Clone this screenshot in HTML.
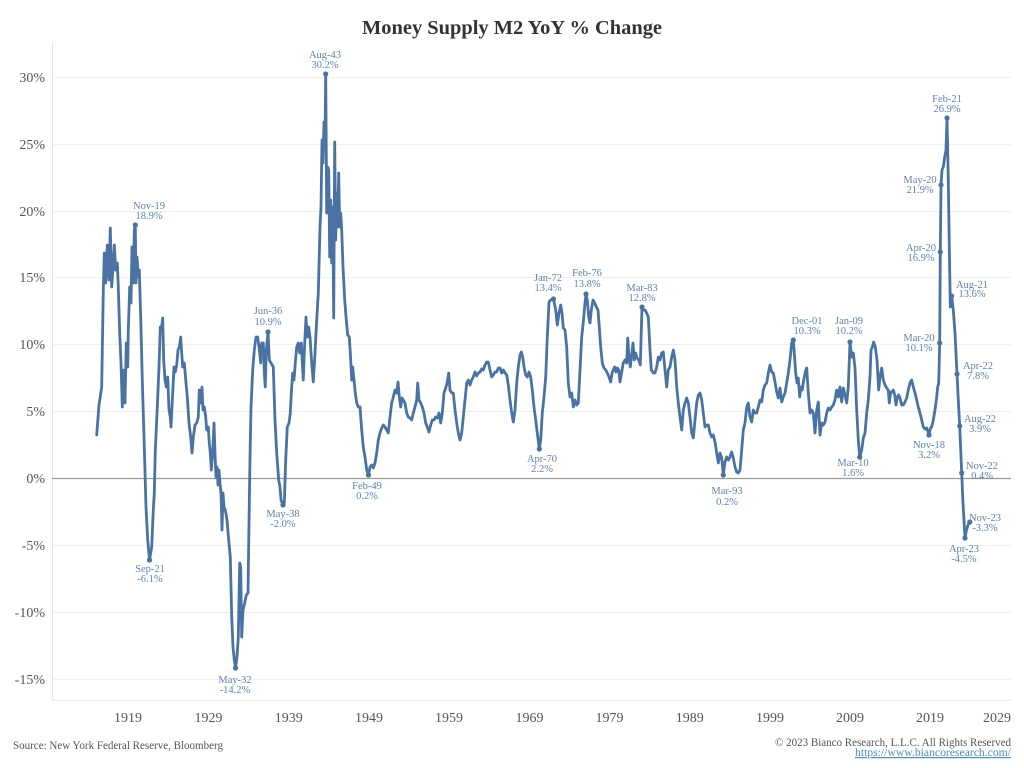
<!DOCTYPE html>
<html>
<head>
<meta charset="utf-8">
<style>
  html,body{margin:0;padding:0;background:#fff;}
  svg{display:block;}
  .ax{font-family:"Liberation Serif",serif;font-size:14px;fill:#555;}
  .an{font-family:"Liberation Serif",serif;font-size:10.5px;fill:#6281ab;text-anchor:middle;}
</style>
</head>
<body>
<svg width="1024" height="768" viewBox="0 0 1024 768" xmlns="http://www.w3.org/2000/svg">
  <rect width="1024" height="768" fill="#fff"/>
  <!-- title -->
  <text x="512" y="34" text-anchor="middle" font-family="Liberation Serif, serif" font-weight="bold" font-size="20" fill="#333" textLength="300" lengthAdjust="spacingAndGlyphs">Money Supply M2 YoY % Change</text>

  <!-- plot frame -->
  <line x1="52.5" y1="42" x2="52.5" y2="700" stroke="#e6e6e6" stroke-width="1"/>
  <line x1="52" y1="700.5" x2="1011" y2="700.5" stroke="#e6e6e6" stroke-width="1"/>
  <!-- gridlines -->
  <g stroke="#efefef" stroke-width="1">
    <line x1="52" y1="77.5" x2="1011" y2="77.5"/>
    <line x1="52" y1="144.5" x2="1011" y2="144.5"/>
    <line x1="52" y1="211.5" x2="1011" y2="211.5"/>
    <line x1="52" y1="277.5" x2="1011" y2="277.5"/>
    <line x1="52" y1="344.5" x2="1011" y2="344.5"/>
    <line x1="52" y1="411.5" x2="1011" y2="411.5"/>
    <line x1="52" y1="545.5" x2="1011" y2="545.5"/>
    <line x1="52" y1="612.5" x2="1011" y2="612.5"/>
    <line x1="52" y1="679.5" x2="1011" y2="679.5"/>
  </g>
  <line x1="52" y1="478.5" x2="1011" y2="478.5" stroke="#9a9a9a" stroke-width="1.2"/>

  <!-- y labels -->
  <g class="ax" text-anchor="end">
    <text x="45" y="82">30%</text>
    <text x="45" y="149">25%</text>
    <text x="45" y="216">20%</text>
    <text x="45" y="282">15%</text>
    <text x="45" y="349">10%</text>
    <text x="45" y="416">5%</text>
    <text x="45" y="483">0%</text>
    <text x="45" y="550">-5%</text>
    <text x="45" y="617">-10%</text>
    <text x="45" y="684">-15%</text>
  </g>
  <!-- x labels -->
  <g class="ax" text-anchor="middle">
    <text x="128" y="722">1919</text>
    <text x="208.5" y="722">1929</text>
    <text x="288.7" y="722">1939</text>
    <text x="369" y="722">1949</text>
    <text x="449" y="722">1959</text>
    <text x="529.5" y="722">1969</text>
    <text x="609.5" y="722">1979</text>
    <text x="689.7" y="722">1989</text>
    <text x="770" y="722">1999</text>
    <text x="850" y="722">2009</text>
    <text x="930" y="722">2019</text>
    <text x="997" y="722">2029</text>
  </g>

  <!-- series -->
  <polyline fill="none" stroke="#4a73a3" stroke-width="2.8" stroke-linejoin="round" stroke-linecap="round" points="
96.7,435 99,405 101.7,387 103.3,290 104.3,253 105.7,283 107.3,245 109,280 110.3,228 111.7,287 113,268 114.3,245 115.7,270 117.3,263 118.3,287 119.7,333 121,363 122.3,407 123.7,370 125,403 126.3,343 127.7,367 128.3,330 129.7,287 131,303 132,247 133.3,283 134.3,230 135.3,225 136,283 137,257 138.3,277 139.3,270 140.7,317 142.3,380 144.3,447 146,507 147.7,540 149.5,560 151.7,547 153.3,510 154.3,493 155.3,450 157.3,407 159,367 160.3,327 161.3,330 162.7,318 163.7,360 165,380 166.3,387 167.7,377 169,410 170.3,417 171,427 172.7,393 174,367 175.3,372 176.7,365 178,350 179.3,347 180.7,337 181.7,353 182.7,367 184.3,363 186,383 187.3,397 189,423 190.7,437 192,453 193.3,437 195,425 196.7,423 198.3,417 199.3,390 200.7,403 202,387 203,410 204.3,407 205.7,417 206.7,430 208.3,427 209.3,443 210.3,453 211.3,470 212.7,453 214,423 215,453 216,477 217,467 218,485 219,470 220,483 221,493 222,530 223,493 224,507 225.3,510 227,520 228.7,540 230.3,557 231.7,617 233,647 234.3,660 235.5,668 237,657 238.3,637 239.7,563 240.7,567 241.7,637 243,610 244.7,603 246.3,595 248,593 249,523 250,457 251,407 252.7,370 254.3,350 256,337 257.7,337 259,347 260.7,363 261.7,343 263.3,343 264.3,373 265.3,387 266.3,350 268,332 269.3,360 271,363 273.3,367 275,420 276.7,453 278.7,480 280,487 281,500 283,505 284.3,503 285.7,460 287.3,427 289,423 290.3,413 291.3,393 292.7,373 294,380 295.3,363 296.7,347 298.3,343 299.7,353 301.3,343 302.3,363 303.3,380 304.7,343 306,317 307.3,337 308.7,327 310,337 311.7,363 313.3,382 315,353 316.7,320 318.3,293 320,227 321,207 322,140 323,163 324,122 325,143 325.7,74 326.7,213 327.7,167 328.7,170 329.7,257 330.7,200 331.7,263 332.7,207 333.7,318 334.7,142 335.7,240 336.7,193 337.7,227 338.7,173 339.7,227 340.7,213 341.7,230 343,267 344.7,300 346.3,320 347.7,335 349.3,337 350.7,360 351.7,380 352.7,367 354,380 355.3,393 356.7,403 358.3,407 360,407 361.7,430 363.3,447 365,457 366.7,470 368.5,475 370,467 371.7,465 373.3,468 375,463 376.7,453 378.3,440 380,433 381.7,428 383.3,425 385,427 386.7,430 388.3,433 390,417 391.7,403 393.3,397 395,390 396.7,393 398,382 399.3,397 400.7,407 402,398 403.3,400 405,403 406.7,413 408.3,417 410,418 411.7,420 413.3,413 415,407 416.7,400 417.7,383 419,400 420.7,403 422.3,407 424,413 425.7,423 427.3,427 429,432 430.7,425 432.3,420 434,420 435.7,417 437.3,418 439,413 440.7,423 442.3,413 444,393 445.7,388 447.3,382 448.7,373 450,390 451.7,393 453.3,393 455,410 456.7,423 458.3,433 460,440 461.7,433 463.3,417 465,400 466.7,383 468.3,380 470,385 471.7,380
473.3,377 475,372 476.7,376 478.3,373 480,372 481.7,369 483.3,370 485,365 486.7,362 488.3,362 490,370 491.7,377 493.3,375 495,372 496.7,372 498.3,368 500,368 501.7,373 503.3,370 505,373 506.7,375 508.3,385 510,400 511.7,413 513.3,422 515,410 516.7,383 518.3,367 520,355 521.3,352 522.7,357 524,367 525.7,375 527.3,377 529,372 530.7,377 532.3,390 534,407 535.7,420 537.3,433 539.3,449 540.7,440 542.3,413 544,397 545.7,377 547.3,337 549,302 550.7,300 552.3,299 553.5,299 555.7,310 557.3,325 559,313 560.7,305 562,313 563.3,328 565,330 566.7,347 568.3,383 570,397 571.7,393 573.3,407 575,400 576.7,405 578.3,403 580,370 581.7,337 583.3,322 585,303 586,294 587.3,300 588.7,317 590,323 591.3,310 593,300 594.7,303 596.3,307 598,310 599.3,327 600.7,347 602.3,363 604,368 605.7,370 607.3,373 609,377 610.7,382 612,373 613.3,370 614.7,367 616,372 617.3,368 618.7,370 620,382 621.7,372 623.3,363 625,360 626.7,363 627.7,338 629,357 630.3,367 631.7,355 633,343 634.3,360 635.7,353 637,358 638.7,360 640.3,365 642,307 643.3,310 645,310 646.7,313 648.3,317 650,350 651.3,370 653.3,373 655,373 656.7,367 658.3,357 660,360 661.7,353 663.3,352 665,370 666.7,387 668.3,370 670,367 671.7,357 673.3,350 675,360 676.7,387 678.3,403 680,417 681.7,430 683.3,410 685,403 686.7,398 688.3,403 690,417 691.7,433 693.3,438 695,420 696.7,403 698.3,395 700,393
701.7,400 703.3,413 705,427 706.7,425 708.3,425 710,433 711.7,437 713.3,435 715,442 716.7,453 718.3,463 720,453 721.7,458 723.3,475 725,462 726.7,457 728.3,460 730,457 731.7,452 733.3,458 735,467 736.7,472 738.3,473 740,470 741.7,450 743.3,430 745,423 746.7,407 748.3,403 750,417 751.7,422 753.3,410 755,413 756.7,413 758.3,407 760,400 761.7,402 763.3,390 765,385 766.7,383 768.3,373 770,365 771.7,372 773.3,373 775,382 776.7,392 778.3,398 780,388 781.7,402 783.3,397 785,393 786.7,383 788.3,373 790,360 791.7,343 793.3,340 794.3,353 795.7,373 797,383 798.3,378 799.7,397 801,387 802.3,390 803.7,380 805.3,372 806.7,368 808.3,393 810,413 811.7,410 813.3,413 815,433 816.7,410 818.3,402 820,435 821.7,423 823.3,425 825,422 826.7,413 828.3,408 830,410 831.7,407 833.3,405 835,400 836.7,390 838.3,397 840,387 841.7,402 843.3,388 845,395 846.7,403 848.3,387 850,342 851.7,357 853.3,353 855,368 856.7,410 858.3,440 859.7,457 861.7,450 863.3,438 865,433 866.7,413 868.3,400 870,377 871,350 872.3,347 873.7,342 875.3,347 877,360 878.7,390 880,377 881.7,368 883.3,380 885,385 886.7,388 888.3,390 889.3,403 890.7,392 892,392 893.3,390 894.7,395 896,405 897.3,397 898.7,395 900,398
901.7,405 903.3,405 905,402 906.7,398 908.3,390 910,383 911.7,380 913.3,387 915,393 916.7,400 918.3,407 920,413 921.7,420 923.3,427 925,429 926.7,428 929,435 930.5,428 931.7,427 933.3,420 935,410 936.7,397 937.7,387 938.7,383 939.7,343 940.3,252 941,185 942,170 943.3,167 944.7,157 946,150 947,118 948.3,180 949.3,247 950.3,307 951.6,296 953.3,310 955,333 957,374 958.3,400 959.7,426 961.7,473 963,503 965,538 966.5,530 968,525 969.8,522"/>

  <!-- markers -->
  <g fill="#4a73a3">
    <circle cx="135.3" cy="225" r="2.6"/>
    <circle cx="149.5" cy="560" r="2.6"/>
    <circle cx="235.5" cy="668" r="2.6"/>
    <circle cx="268" cy="332" r="2.6"/>
    <circle cx="283" cy="505" r="2.6"/>
    <circle cx="325.7" cy="74" r="2.6"/>
    <circle cx="368.5" cy="475" r="2.6"/>
    <circle cx="539.3" cy="449" r="2.6"/>
    <circle cx="553.5" cy="299" r="2.6"/>
    <circle cx="586" cy="294" r="2.6"/>
    <circle cx="642" cy="307" r="2.6"/>
    <circle cx="723.3" cy="475" r="2.6"/>
    <circle cx="793.3" cy="340" r="2.6"/>
    <circle cx="850" cy="342" r="2.6"/>
    <circle cx="859.7" cy="457" r="2.6"/>
    <circle cx="929" cy="435" r="2.6"/>
    <circle cx="939.7" cy="343" r="2.6"/>
    <circle cx="940.3" cy="252" r="2.6"/>
    <circle cx="941" cy="185" r="2.6"/>
    <circle cx="947" cy="118" r="2.6"/>
    <circle cx="951.6" cy="296" r="2.6"/>
    <circle cx="957" cy="374" r="2.6"/>
    <circle cx="959.7" cy="426" r="2.6"/>
    <circle cx="961.7" cy="473" r="2.6"/>
    <circle cx="965" cy="538" r="2.6"/>
    <circle cx="969.8" cy="522" r="2.6"/>
  </g>

  <!-- annotations -->
  <g class="an">
    <text x="149" y="209">Nov-19</text><text x="149" y="219">18.9%</text>
    <text x="325" y="58">Aug-43</text><text x="325" y="68">30.2%</text>
    <text x="150" y="572">Sep-21</text><text x="150" y="582">-6.1%</text>
    <text x="235" y="683">May-32</text><text x="235" y="693">-14.2%</text>
    <text x="283" y="517">May-38</text><text x="283" y="527">-2.0%</text>
    <text x="268" y="314">Jun-36</text><text x="268" y="325">10.9%</text>
    <text x="367" y="489">Feb-49</text><text x="367" y="499">0.2%</text>
    <text x="542" y="462">Apr-70</text><text x="542" y="472">2.2%</text>
    <text x="548" y="281">Jan-72</text><text x="548" y="291">13.4%</text>
    <text x="587" y="276">Feb-76</text><text x="587" y="287">13.8%</text>
    <text x="642" y="291">Mar-83</text><text x="642" y="301">12.8%</text>
    <text x="727" y="494">Mar-93</text><text x="727" y="505">0.2%</text>
    <text x="807" y="324">Dec-01</text><text x="807" y="334">10.3%</text>
    <text x="849" y="324">Jan-09</text><text x="849" y="334">10.2%</text>
    <text x="853" y="466">Mar-10</text><text x="853" y="476">1.6%</text>
    <text x="947" y="102">Feb-21</text><text x="947" y="112">26.9%</text>
    <text x="920" y="183">May-20</text><text x="920" y="193">21.9%</text>
    <text x="921" y="251">Apr-20</text><text x="921" y="261">16.9%</text>
    <text x="919" y="341">Mar-20</text><text x="919" y="351">10.1%</text>
    <text x="929" y="448">Nov-18</text><text x="929" y="458">3.2%</text>
    <text x="972" y="288">Aug-21</text><text x="972" y="297">13.6%</text>
    <text x="978" y="369">Apr-22</text><text x="978" y="379">7.8%</text>
    <text x="980" y="422">Aug-22</text><text x="980" y="432">3.9%</text>
    <text x="982" y="469">Nov-22</text><text x="982" y="479">0.4%</text>
    <text x="985" y="521">Nov-23</text><text x="985" y="531">-3.3%</text>
    <text x="964" y="552">Apr-23</text><text x="964" y="562">-4.5%</text>
  </g>

  <!-- footer -->
  <text x="13" y="749" font-family="Liberation Serif, serif" font-size="12" fill="#555" textLength="210" lengthAdjust="spacingAndGlyphs">Source: New York Federal Reserve, Bloomberg</text>
  <text x="1011" y="746" text-anchor="end" font-family="Liberation Serif, serif" font-size="12" fill="#555" textLength="236" lengthAdjust="spacingAndGlyphs">© 2023 Bianco Research, L.L.C. All Rights Reserved</text>
  <text x="1011" y="756" text-anchor="end" font-family="Liberation Serif, serif" font-size="12" fill="#4f8fb5" text-decoration="underline" textLength="156" lengthAdjust="spacingAndGlyphs">https://www.biancoresearch.com/</text>
</svg>
</body>
</html>
